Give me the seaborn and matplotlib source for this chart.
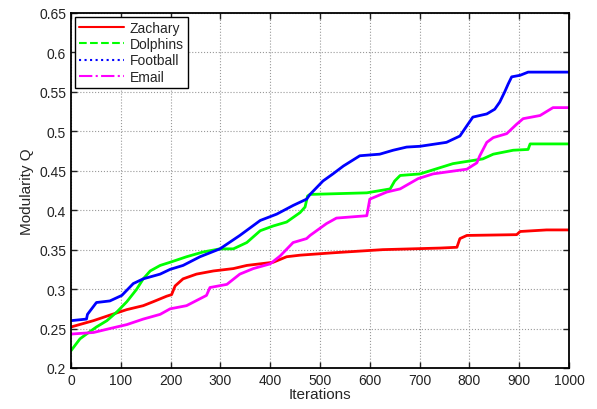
import pandas as pd
import seaborn as sns
import matplotlib.pyplot as plt
from matplotlib.lines import Line2D

# dados (iteração, modularidade)
zachary_x = [0, 45, 78, 112, 145, 165, 192, 202, 209, 225, 252, 286, 326, 353, 406, 433, 460, 526, 626, 741, 775, 781, 795, 895, 902, 955, 1000]
zachary_y = [0.252, 0.26, 0.267, 0.274, 0.279, 0.284, 0.291, 0.293, 0.304, 0.313, 0.319, 0.323, 0.326, 0.33, 0.334, 0.341, 0.343, 0.346, 0.35, 0.352, 0.353, 0.364, 0.368, 0.369, 0.373, 0.375, 0.375]

dolphins_x = [0, 18, 31, 51, 72, 92, 112, 132, 145, 159, 179, 199, 232, 265, 299, 326, 353, 380, 406, 433, 460, 470, 475, 480, 594, 641, 650, 661, 701, 767, 827, 848, 888, 918, 922, 1000]
dolphins_y = [0.222, 0.237, 0.243, 0.252, 0.26, 0.271, 0.284, 0.30, 0.313, 0.323, 0.33, 0.334, 0.341, 0.347, 0.351, 0.351, 0.359, 0.374, 0.38, 0.385, 0.397, 0.404, 0.418, 0.42, 0.422, 0.427, 0.437, 0.444, 0.446, 0.459, 0.465, 0.471, 0.476, 0.477, 0.484, 0.484]

football_x = [0, 31, 33, 51, 78, 102, 125, 145, 179, 199, 225, 259, 299, 339, 380, 413, 446, 473, 480, 506, 526, 547, 580, 620, 647, 674, 701, 754, 781, 795, 807, 835, 851, 861, 871, 878, 885, 902, 918, 1000]
football_y = [0.26, 0.262, 0.268, 0.283, 0.285, 0.292, 0.307, 0.313, 0.319, 0.325, 0.33, 0.341, 0.351, 0.368, 0.387, 0.395, 0.406, 0.414, 0.42, 0.437, 0.446, 0.456, 0.469, 0.471, 0.476, 0.48, 0.481, 0.486, 0.494, 0.507, 0.518, 0.522, 0.528, 0.537, 0.55, 0.56, 0.569, 0.571, 0.575, 0.575]

email_x = [0, 45, 78, 112, 145, 179, 199, 232, 272, 279, 313, 339, 366, 400, 420, 446, 473, 480, 513, 533, 594, 600, 634, 661, 697, 727, 795, 815, 821, 835, 848, 875, 895, 908, 942, 968, 1000]
email_y = [0.243, 0.245, 0.25, 0.255, 0.262, 0.268, 0.275, 0.279, 0.292, 0.302, 0.306, 0.319, 0.326, 0.332, 0.342, 0.359, 0.364, 0.368, 0.383, 0.39, 0.393, 0.414, 0.423, 0.427, 0.44, 0.446, 0.452, 0.46, 0.469, 0.486, 0.492, 0.497, 0.509, 0.516, 0.52, 0.53, 0.53]

redes = ["Zachary", "Dolphins", "Football", "Email"]
cores = ["#ff0000", "#00ff00", "#0000ff", "#ff00ff"]
estilos = ["-", "--", ":", "-."]
series = [(zachary_x, zachary_y), (dolphins_x, dolphins_y), (football_x, football_y), (email_x, email_y)]

sns.set_style("ticks")
plt.rcParams['font.family'] = ['Liberation Sans', 'DejaVu Sans']

fig, ax = plt.subplots(figsize=(5.97, 4.10), dpi=100)
fig.subplots_adjust(left=0.119, right=0.953, top=0.966, bottom=0.1)

for nome, cor, (xs, ys) in zip(redes, cores, series):
    df = pd.DataFrame({"it": xs, "q": ys})
    sns.lineplot(data=df, x="it", y="q", color=cor, lw=2, ax=ax, estimator=None, sort=False)

ax.set_xlim(0, 1000)
ax.set_ylim(0.2, 0.65)
ax.set_xticks(range(0, 1001, 100))
yt = [0.2 + 0.05 * i for i in range(10)]
ax.set_yticks(yt)
ax.set_yticklabels(["%g" % round(v, 2) for v in yt])
ax.tick_params(direction="in", length=4, width=1, labelsize=10, colors="#222222", top=True, right=True)
ax.grid(True, linestyle=":", color="#999999", lw=0.8)
for s in ax.spines.values():
    s.set_linewidth(1.3)
    s.set_color("black")
ax.set_xlabel("Iterations", fontsize=11, labelpad=0)
ax.set_ylabel("Modularity Q", fontsize=11)

handles = [Line2D([], [], color=c, ls=e, lw=1.5) for c, e in zip(cores, estilos)]
leg = ax.legend(handles, redes, loc="upper left", fontsize=10, handlelength=3.2,
                fancybox=False, framealpha=1, edgecolor="black", borderaxespad=0.3,
                labelspacing=0.15, borderpad=0.3, handletextpad=0.4)
leg.get_frame().set_linewidth(1)

plt.savefig("out.png", dpi=100)
